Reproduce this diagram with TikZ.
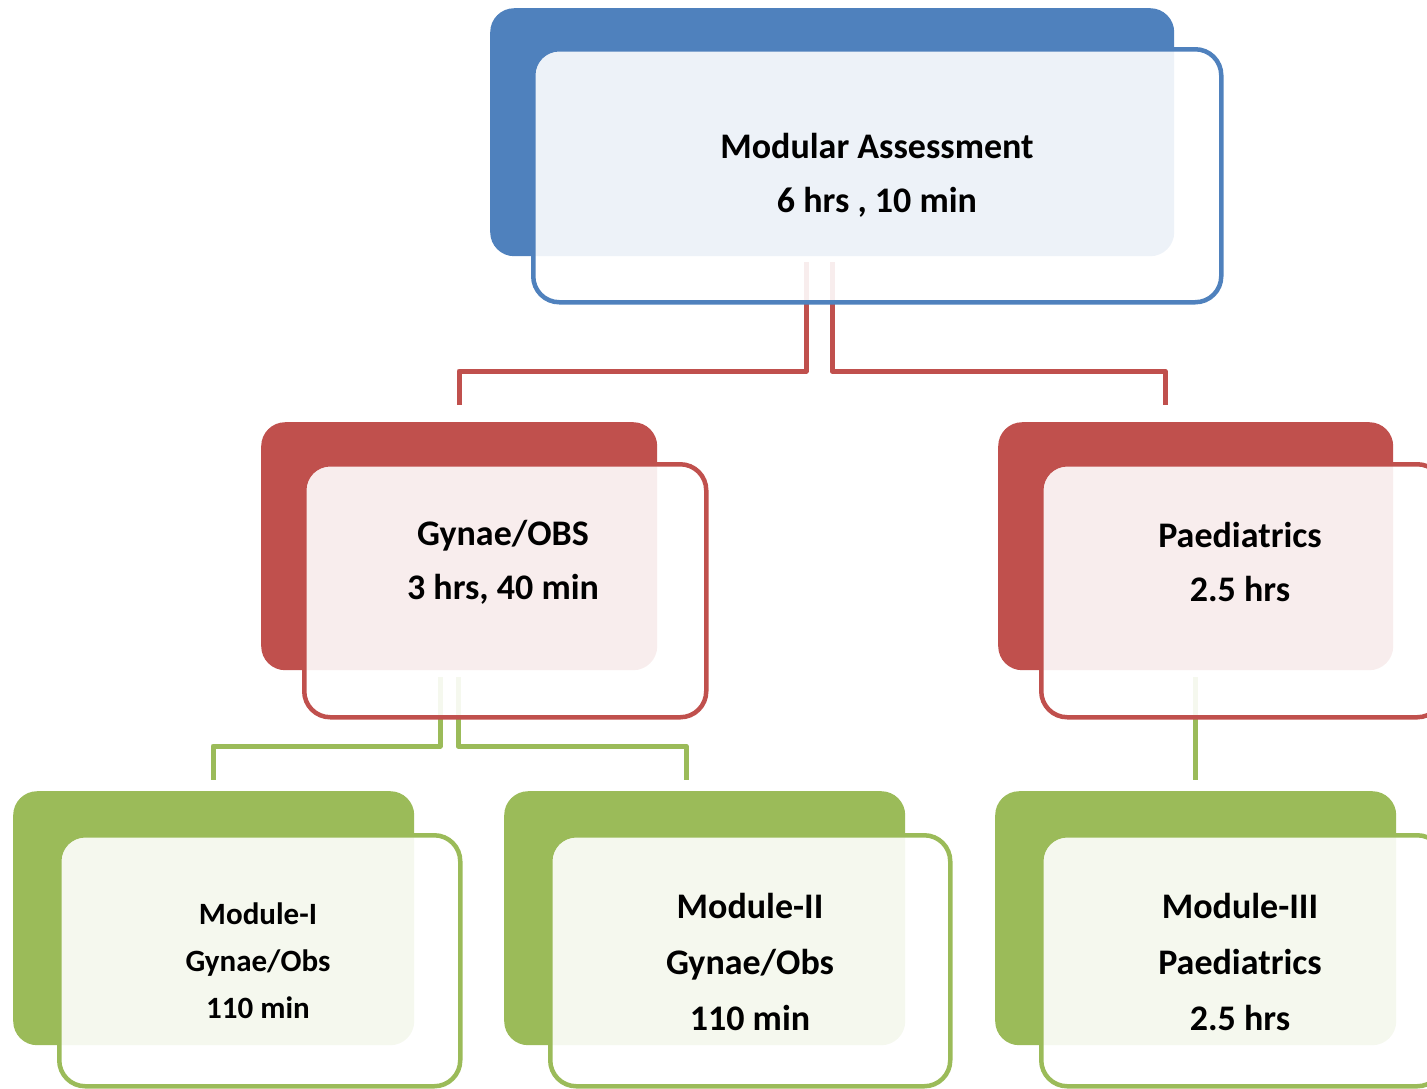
\documentclass[tikz,border=0pt]{standalone}
\usepackage{fontspec}
\setmainfont{Carlito}
\definecolor{cblue}{HTML}{4F81BD}
\definecolor{cred}{HTML}{C0504D}
\definecolor{cgreen}{HTML}{9BBB59}
\begin{document}
\begin{tikzpicture}[x=1pt,y=-1pt,
  backbox/.style={rectangle,draw=none,fill=#1,rounded corners=24pt,anchor=north west,inner sep=0pt},
  frontbox/.style={rectangle,draw=#1,line width=4.5pt,fill=white,fill opacity=0.9,rounded corners=26pt,anchor=north west,inner sep=0pt},
  conn/.style={draw=#1,line width=5pt,line join=round},
  bigtext/.style={align=center,font=\fontsize{36}{54}\selectfont\bfseries,text=black},
  bigtextb/.style={align=center,font=\fontsize{36}{56}\selectfont\bfseries,text=black},
  smalltext/.style={align=center,font=\fontsize{31}{47}\selectfont\bfseries,text=black}]
\useasboundingbox (0,0) rectangle (1427,1088);
\clip (0,0) rectangle (1427,1088);
% back boxes
\node[backbox=cblue,minimum width=684pt,minimum height=248pt] (topb) at (490,8) {};
\node[backbox=cred,minimum width=396pt,minimum height=248pt] (gynb) at (261,422) {};
\node[backbox=cred,minimum width=395pt,minimum height=248pt] (paeb) at (998,422) {};
\node[backbox=cgreen,minimum width=401pt,minimum height=254pt] (m1b) at (13,791) {};
\node[backbox=cgreen,minimum width=401pt,minimum height=254pt] (m2b) at (504,791) {};
\node[backbox=cgreen,minimum width=401pt,minimum height=254pt] (m3b) at (995,791) {};
% connector points
\coordinate (a1) at (806,262); \coordinate (a2) at (806,371); \coordinate (a3) at (459,371); \coordinate (a4) at (459,405);
\coordinate (b1) at (832,262); \coordinate (b2) at (832,371); \coordinate (b3) at (1165,371); \coordinate (b4) at (1165,405);
\coordinate (c1) at (440,677); \coordinate (c2) at (440,746); \coordinate (c3) at (213,746); \coordinate (c4) at (213,780);
\coordinate (d1) at (458,677); \coordinate (d2) at (458,746); \coordinate (d3) at (686,746); \coordinate (d4) at (686,780);
\coordinate (e1) at (1195,677); \coordinate (e2) at (1195,780);
\draw[conn=cred] (a1) -- (a2) -- (a3) -- (a4);
\draw[conn=cred] (b1) -- (b2) -- (b3) -- (b4);
\draw[conn=cgreen] (c1) -- (c2) -- (c3) -- (c4);
\draw[conn=cgreen] (d1) -- (d2) -- (d3) -- (d4);
\draw[conn=cgreen] (e1) -- (e2);
% front boxes
\node[frontbox=cblue,minimum width=688pt,minimum height=253pt] (topf) at (531,47) {};
\node[frontbox=cred,minimum width=402pt,minimum height=253pt] (gynf) at (302,462) {};
\node[frontbox=cred,minimum width=402pt,minimum height=253pt] (paef) at (1039,462) {};
\node[frontbox=cgreen,minimum width=401pt,minimum height=251pt] (m1f) at (57,833) {};
\node[frontbox=cgreen,minimum width=400pt,minimum height=251pt] (m2f) at (548,833) {};
\node[frontbox=cgreen,minimum width=402pt,minimum height=251pt] (m3f) at (1039,833) {};
% texts
\node[bigtext] (topt) at (877,175) {Modular Assessment\\6 hrs , 10 min};
\node[bigtext] (gynt) at (503,562) {Gynae/OBS\\3 hrs, 40 min};
\node[bigtext] (paet) at (1240,562) {Paediatrics\\2.5 hrs};
\node[smalltext] (m1t) at (258,961) {Module-I\\Gynae/Obs\\110 min};
\node[bigtextb] (m2t) at (750,962) {Module-II\\Gynae/Obs\\110 min};
\node[bigtextb] (m3t) at (1240,962) {Module-III\\Paediatrics\\2.5 hrs};
\end{tikzpicture}
\end{document}
